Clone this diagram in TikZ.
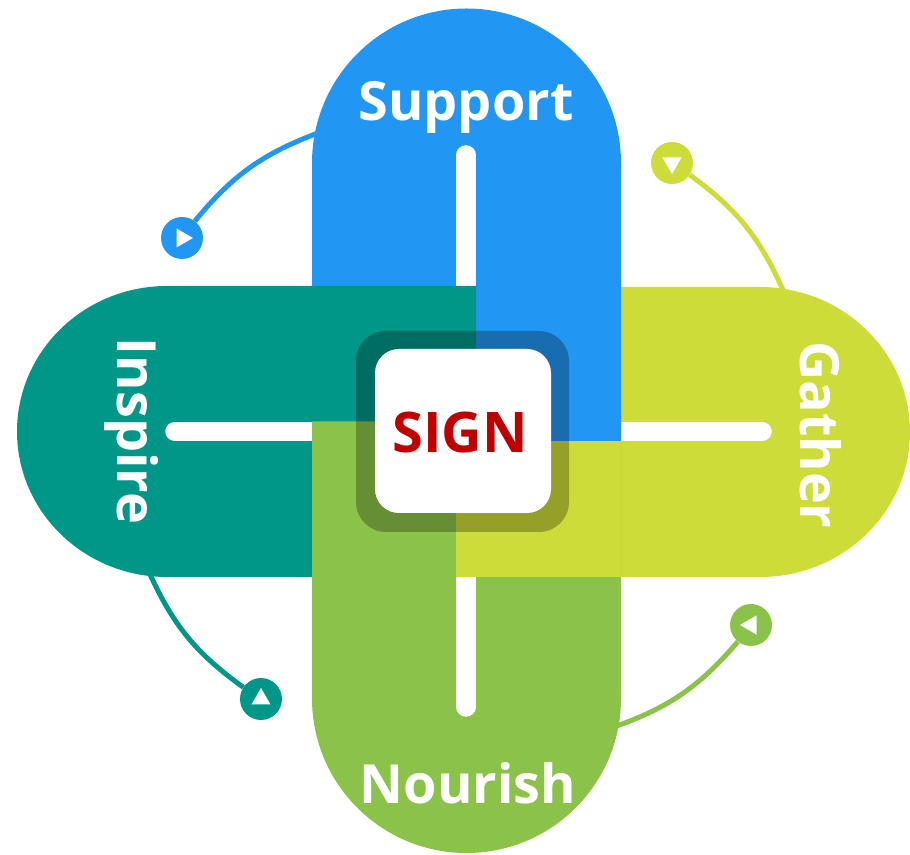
\documentclass[tikz,border=0pt]{standalone}
\usepackage{fontspec}
\setmainfont{Open Sans}
\usetikzlibrary{shapes.geometric}
\definecolor{sblue}{HTML}{2196F3}
\definecolor{steal}{HTML}{009688}
\definecolor{sgreen}{HTML}{8BC34A}
\definecolor{slime}{HTML}{CDDC39}
\definecolor{sred}{HTML}{C00000}

\begin{document}
\begin{tikzpicture}[x=1pt, y=1pt,
    dot/.style={circle, minimum size=42pt, inner sep=0pt},
    tri/.style={regular polygon, regular polygon sides=3, fill=white, minimum size=22pt, inner sep=0pt},
    wire/.style={line width=5pt},
    bar/.style={white, line width=19.5pt, line cap=round},
    word/.style={text=white, inner sep=0pt, font=\fontsize{54}{60}\selectfont\bfseries}]
  \useasboundingbox (0,0) rectangle (910,854);

  \node[dot, fill=sblue]  (cb) at (182,616) {};
  \node[dot, fill=slime]  (cy) at (672,691) {};
  \node[dot, fill=steal]  (ct) at (261,155) {};
  \node[dot, fill=sgreen] (cg) at (751,229) {};
  \node[tri, shape border rotate=-90] (tb) at (cb) {};
  \node[tri, shape border rotate=180]  (ty) at (cy) {};
  \node[tri, shape border rotate=0]    (tt) at (ct) {};
  \node[tri, shape border rotate=90]   (tg) at (cg) {};
  \coordinate (sb) at (318,721);
  \coordinate (sy) at (783,564);
  \coordinate (st) at (149,282);
  \coordinate (sg) at (614,127);
  \path[wire]
    (sb) edge[draw=sblue,  bend right=15] (cb)
    (sy) edge[draw=slime,  bend right=15] (cy)
    (st) edge[draw=steal,  bend right=15] (ct)
    (sg) edge[draw=sgreen, bend right=15] (cg);

  \fill[slime] (456,277) -- (760,277) arc[start angle=-90, end angle=90, x radius=150, y radius=145] -- (456,567) -- cycle;
  \draw[bar] (600,422.5) -- (762,422.5);
  \fill[sblue] (312,412.5) -- (312,691) arc[start angle=180, end angle=0, radius=154.5] -- (621,412.5) -- cycle;
  \draw[bar] (466,699) -- (466,560);
  \fill[steal] (476,568) -- (167,568) arc[start angle=90, end angle=270, x radius=150, y radius=145.5] -- (476,277) -- cycle;
  \draw[bar] (175,422.5) -- (320,422.5);
  \fill[sgreen] (312,432.5) -- (456,432.5) -- (456,412.5) -- (621,412.5) -- (621,155.5)
    arc[start angle=0, end angle=-180, radius=154.5] -- cycle;
  \draw[bar] (466,290) -- (466,147);
  \fill[slime] (456,277) rectangle (621,412.5);

  \fill[black, opacity=0.27, rounded corners=30pt] (356,322) rectangle (569,523);
  \fill[white, rounded corners=24pt] (375,341) rectangle (551,505);
  \node[text=sred, inner sep=0pt, anchor=base, font=\fontsize{56}{60}\selectfont\bfseries] (sign) at (460,401) {SIGN};

  \node[word, anchor=base] (sup) at (466,733) {Support};
  \node[word, anchor=base] (nou) at (468,51) {Nourish};
  \node[word, rotate=-90, anchor=base] (ins) at (117,423) {Inspire};
  \node[word, rotate=-90, anchor=base] (gat) at (800,419) {Gather};
\end{tikzpicture}
\end{document}
